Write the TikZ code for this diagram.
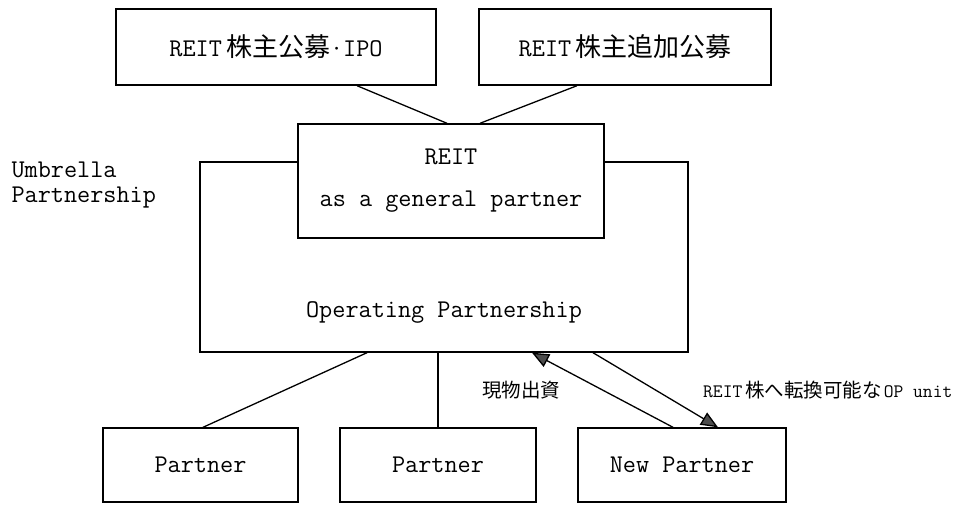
\documentclass[tikz,border=0pt]{standalone}
\usepackage{fontspec}
\setmainfont{Latin Modern Mono}
\newfontfamily\jp{Noto Sans CJK JP}
\usetikzlibrary{arrows.meta,calc}
\newcommand\jpbig[1]{{\jp\fontsize{26}{26}\selectfont #1}}
\newcommand\jpsmall[1]{{\jp\fontsize{19.5}{19.5}\selectfont #1}}
\tikzset{
 box/.style={draw, line width=1.4pt, fill=white, inner sep=0pt},
 conn/.style={line width=1.3pt},
 arr/.style={conn, -{Triangle[width=14pt,length=17pt,fill=black!70]}},
 bigtxt/.style={font=\fontsize{25.5}{27}\selectfont},
 smalltxt/.style={font=\fontsize{19}{19}\selectfont},
}
\begin{document}
\begin{tikzpicture}[x=1pt,y=-1pt]
\useasboundingbox[fill=white] (0,0) rectangle (964,504);
% boxes
\node[box, bigtxt, minimum width=320pt, minimum height=76pt] (b1) at (276,47)
  {REIT\hspace{4pt}\jpbig{株主公募}·IPO};
\node[box, bigtxt, minimum width=292pt, minimum height=76pt] (b2) at (625,47)
  {REIT\hspace{4pt}\jpbig{株主追加公募}};
\node[box, minimum width=488pt, minimum height=190pt] (op) at (444,257) {};
\node[box, align=center, minimum width=306pt, minimum height=114pt,
  font=\fontsize{25.5}{42}\selectfont] (gp) at (451,181) {REIT\\as a general partner};
\node[bigtxt] (optext) at ([yshift=40pt]op.south) {Operating Partnership};
\node[anchor=west, align=left, font=\fontsize{25.5}{25}\selectfont] (umb) at (8,185)
  {Umbrella\\Partnership};
\node[box, bigtxt, minimum width=195pt, minimum height=74pt] (p1) at (200.5,465) {Partner};
\node[box, bigtxt, minimum width=196pt, minimum height=74pt] (p2) at (438,465) {Partner};
\node[box, bigtxt, minimum width=208pt, minimum height=74pt] (np) at (682,465) {New Partner};
% connectors
\draw[conn] ([xshift=81pt]b1.south) -- ([xshift=-4pt]gp.north);
\draw[conn] ([xshift=-48pt]b2.south) -- ([xshift=29pt]gp.north);
\draw[conn] ([xshift=-77pt]op.south) -- ([xshift=2.5pt]p1.north);
\draw[conn] (op.south -| p2.north) -- (p2.north);
\draw[arr] ([xshift=-9pt]np.north) -- ([xshift=88pt]op.south);
\draw[arr] ([xshift=149pt]op.south) -- ([xshift=36pt]np.north);
% labels
\node (l1) at (521,390) {\jpsmall{現物出資}};
\node[smalltxt, anchor=west, inner sep=0pt] (l2) at (703,390)
  {REIT\hspace{3pt}\jpsmall{株へ転換可能な}\hspace{2pt}OP unit};
\end{tikzpicture}
\end{document}
